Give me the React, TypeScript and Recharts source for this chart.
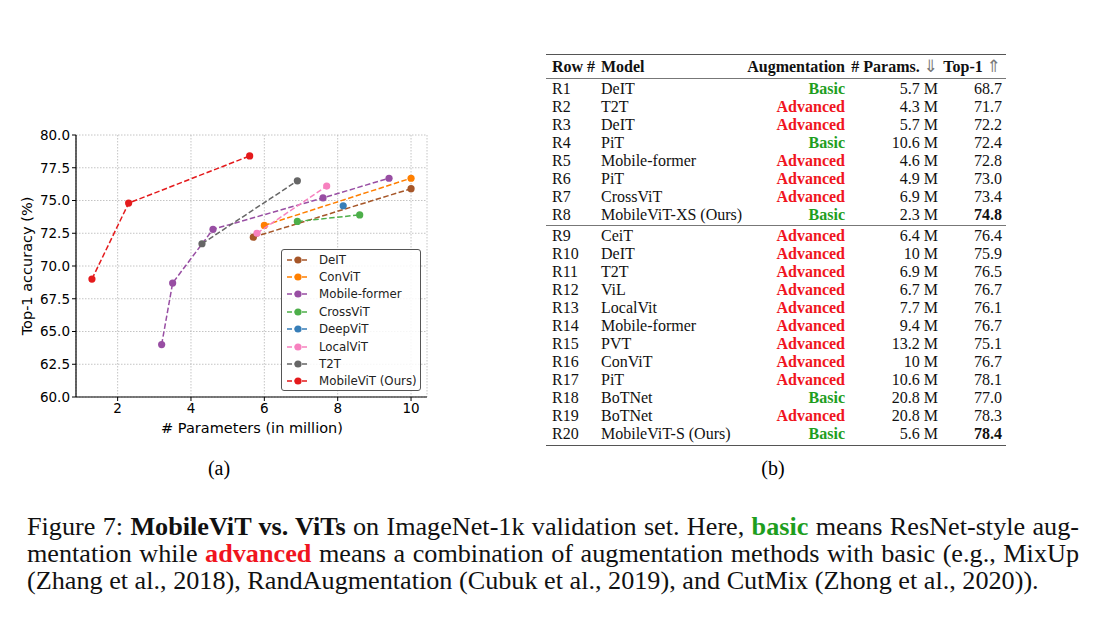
import React from "react";
import {
  ScatterChart,
  Scatter,
  XAxis,
  YAxis,
  CartesianGrid,
} from "recharts";

// chart (a): params (M) and top-1 per model family
const deitParams = [5.7, 10];
const deitAcc = [72.2, 75.9];
const convitParams = [6, 10];
const convitAcc = [73.1, 76.7];
const mformerParams = [3.2, 3.5, 4.6, 7.6, 9.4];
const mformerAcc = [64.0, 68.7, 72.8, 75.2, 76.7];
const crossvitParams = [6.9, 8.6];
const crossvitAcc = [73.4, 73.9];
const deepvitParams = [8.15];
const deepvitAcc = [74.6];
const localvitParams = [5.8, 7.7];
const localvitAcc = [72.5, 76.1];
const t2tParams = [4.3, 6.9];
const t2tAcc = [71.7, 76.5];
const mvitParams = [1.3, 2.3, 5.6];
const mvitAcc = [69.0, 74.8, 78.4];

const xTicks = [2, 4, 6, 8, 10];
const yTicks = [60, 62.5, 65, 67.5, 70, 72.5, 75, 77.5, 80];

const series = [
  { name: "DeIT", color: "#a65628", x: deitParams, y: deitAcc },
  { name: "ConViT", color: "#ff7f00", x: convitParams, y: convitAcc },
  { name: "Mobile-former", color: "#984ea3", x: mformerParams, y: mformerAcc },
  { name: "CrossViT", color: "#4daf4a", x: crossvitParams, y: crossvitAcc },
  { name: "DeepViT", color: "#377eb8", x: deepvitParams, y: deepvitAcc },
  { name: "LocalViT", color: "#f781bf", x: localvitParams, y: localvitAcc },
  { name: "T2T", color: "#666666", x: t2tParams, y: t2tAcc },
  { name: "MobileViT (Ours)", color: "#e41a1c", x: mvitParams, y: mvitAcc },
];

// table (b)
const rowIds = ["R1","R2","R3","R4","R5","R6","R7","R8","R9","R10","R11","R12","R13","R14","R15","R16","R17","R18","R19","R20"];
const modelNames = ["DeIT","T2T","DeIT","PiT","Mobile-former","PiT","CrossViT","MobileViT-XS (Ours)","CeiT","DeIT","T2T","ViL","LocalVit","Mobile-former","PVT","ConViT","PiT","BoTNet","BoTNet","MobileViT-S (Ours)"];
const augTypes = ["Basic","Advanced","Advanced","Basic","Advanced","Advanced","Advanced","Basic","Advanced","Advanced","Advanced","Advanced","Advanced","Advanced","Advanced","Advanced","Advanced","Basic","Advanced","Basic"];
const paramLabels = ["5.7 M","4.3 M","5.7 M","10.6 M","4.6 M","4.9 M","6.9 M","2.3 M","6.4 M","10 M","6.9 M","6.7 M","7.7 M","9.4 M","13.2 M","10 M","10.6 M","20.8 M","20.8 M","5.6 M"];
const top1Labels = ["68.7","71.7","72.2","72.4","72.8","73.0","73.4","74.8","76.4","75.9","76.5","76.7","76.1","76.7","75.1","76.7","78.1","77.0","78.3","78.4"];
const boldRows = ["R8", "R20"];

const GREEN = "#1e9e1e";
const RED = "#f0141e";
const serif = "'Liberation Serif', 'Times New Roman', serif";
const sans = "'DejaVu Sans', sans-serif";

const Dot = (props: any) => {
  const { cx, cy, fill } = props;
  if (cx == null || cy == null) return null;
  return <circle cx={cx} cy={cy} r={3.6} fill={fill} />;
};

const LegendBox = () => (
  <div
    style={{
      position: "absolute",
      left: 281,
      top: 249,
      width: 140,
      height: 142,
      boxSizing: "border-box",
      border: "1px solid #555",
      borderRadius: 3,
      background: "rgba(255,255,255,0.85)",
      fontFamily: sans,
      fontSize: 11.8,
      paddingTop: 1,
    }}
  >
    {series.map((s) => (
      <div key={s.name} style={{ display: "flex", alignItems: "center", height: 17.4 }}>
        <svg width={33} height={10} style={{ marginLeft: 4 }}>
          <line x1={1} y1={5} x2={23} y2={5} stroke={s.color} strokeWidth={1.5} strokeDasharray="5 2.5" />
          <circle cx={12} cy={5} r={3.6} fill={s.color} />
        </svg>
        <span style={{ color: "#222" }}>{s.name}</span>
      </div>
    ))}
  </div>
);

const cell = (left?: number, right?: number): React.CSSProperties => ({
  position: "absolute",
  top: 0,
  whiteSpace: "nowrap",
  ...(left != null ? { left } : {}),
  ...(right != null ? { right } : {}),
});

const arrowStyle: React.CSSProperties = { fontWeight: "normal", color: "#777", fontFamily: sans, fontSize: 17 };

export default function App() {
  return (
    <div style={{ position: "absolute", left: 0, top: 0, width: 1104, height: 625, background: "#fff" }}>
      <div style={{ position: "absolute", left: 0, top: 120, width: 440, height: 330 }}>
        <ScatterChart width={440} height={330} margin={{ top: 15, right: 13, left: 16, bottom: 23 }}>
          <CartesianGrid stroke="#b5b5b5" strokeDasharray="1.5 1.5" strokeWidth={0.8} />
          <XAxis
            type="number"
            dataKey="x"
            domain={[0.865, 10.435]}
            ticks={xTicks}
            allowDataOverflow
            height={30}
            tickSize={4}
            stroke="#000"
            axisLine={{ stroke: "#000", strokeWidth: 1.2 }}
            tickLine={{ stroke: "#000" }}
            tick={{ fill: "#000", fontSize: 13.5, fontFamily: sans }}
          />
          <YAxis
            type="number"
            dataKey="y"
            domain={[60, 80]}
            ticks={yTicks}
            allowDataOverflow
            width={60}
            tickSize={4}
            stroke="#000"
            axisLine={{ stroke: "#000", strokeWidth: 1.2 }}
            tickLine={{ stroke: "#000" }}
            tickFormatter={(v: number) => v.toFixed(1)}
            tick={{ fill: "#000", fontSize: 13.5, fontFamily: sans }}
          />
          {series.map((s) => (
            <Scatter
              key={s.name}
              name={s.name}
              data={s.x.map((x, i) => ({ x, y: s.y[i] }))}
              fill={s.color}
              line={{ stroke: s.color, strokeWidth: 1.5, strokeDasharray: "5.5 2.5" }}
              lineType="joint"
              shape={<Dot />}
              isAnimationActive={false}
            />
          ))}
        </ScatterChart>
        <div
          style={{
            position: "absolute",
            left: 252,
            top: 308,
            transform: "translate(-50%, -50%)",
            fontFamily: sans,
            fontSize: 14.5,
            whiteSpace: "nowrap",
          }}
        >
          # Parameters (in million)
        </div>
        <div
          style={{
            position: "absolute",
            left: 27,
            top: 146,
            transform: "translate(-50%, -50%) rotate(-90deg)",
            fontFamily: sans,
            fontSize: 14.5,
            whiteSpace: "nowrap",
          }}
        >
          Top-1 accuracy (%)
        </div>
      </div>
      <LegendBox />

      <div style={{ position: "absolute", left: 219, top: 468, transform: "translate(-50%, -50%)", fontFamily: serif, fontSize: 20 }}>(a)</div>
      <div style={{ position: "absolute", left: 773, top: 468, transform: "translate(-50%, -50%)", fontFamily: serif, fontSize: 20 }}>(b)</div>

      {/* table (b) */}
      <div style={{ position: "absolute", left: 546, top: 54, width: 460, fontFamily: serif, fontSize: 16, color: "#111" }}>
        <div style={{ borderTop: "1.5px solid #555" }} />
        <div style={{ position: "relative", height: 23, lineHeight: "23px", fontWeight: "bold" }}>
          <span style={cell(6)}>Row #</span>
          <span style={cell(55)}>Model</span>
          <span style={cell(undefined, 161)}>Augmentation</span>
          <span style={cell(undefined, 68)}>
            # Params. <span style={arrowStyle}>⇓</span>
          </span>
          <span style={cell(undefined, 5)}>
            Top-1 <span style={arrowStyle}>⇑</span>
          </span>
        </div>
        <div style={{ borderTop: "1px solid #777", marginBottom: 1 }} />
        {rowIds.map((r, i) => (
          <React.Fragment key={r}>
            {i === 8 && <div style={{ borderTop: "1px solid #777", margin: "1px 0 1px 0" }} />}
            <div style={{ position: "relative", height: 18, lineHeight: "18px" }}>
              <span style={cell(6)}>{r}</span>
              <span style={cell(55)}>{modelNames[i]}</span>
              <span style={{ ...cell(undefined, 161), fontWeight: "bold", color: augTypes[i] === "Basic" ? GREEN : RED }}>{augTypes[i]}</span>
              <span style={cell(undefined, 68)}>{paramLabels[i]}</span>
              <span style={{ ...cell(undefined, 4), fontWeight: boldRows.includes(r) ? "bold" : "normal" }}>{top1Labels[i]}</span>
            </div>
          </React.Fragment>
        ))}
        <div style={{ borderTop: "1.5px solid #555", marginTop: 2 }} />
      </div>

      {/* caption */}
      <div style={{ position: "absolute", left: 27, top: 513, width: 1052, fontFamily: serif, fontSize: 26.2, lineHeight: "27px", color: "#111" }}>
        <div style={{ textAlign: "justify", textAlignLast: "justify", whiteSpace: "nowrap" }}>
          Figure 7: <b>MobileViT vs. ViTs</b> on ImageNet-1k validation set. Here, <b style={{ color: GREEN }}>basic</b> means ResNet-style aug-
        </div>
        <div style={{ textAlign: "justify", textAlignLast: "justify", whiteSpace: "nowrap" }}>
          mentation while <b style={{ color: RED }}>advanced</b> means a combination of augmentation methods with basic (e.g., MixUp
        </div>
        <div style={{ whiteSpace: "nowrap" }}>(Zhang et al., 2018), RandAugmentation (Cubuk et al., 2019), and CutMix (Zhong et al., 2020)).</div>
      </div>
    </div>
  );
}
